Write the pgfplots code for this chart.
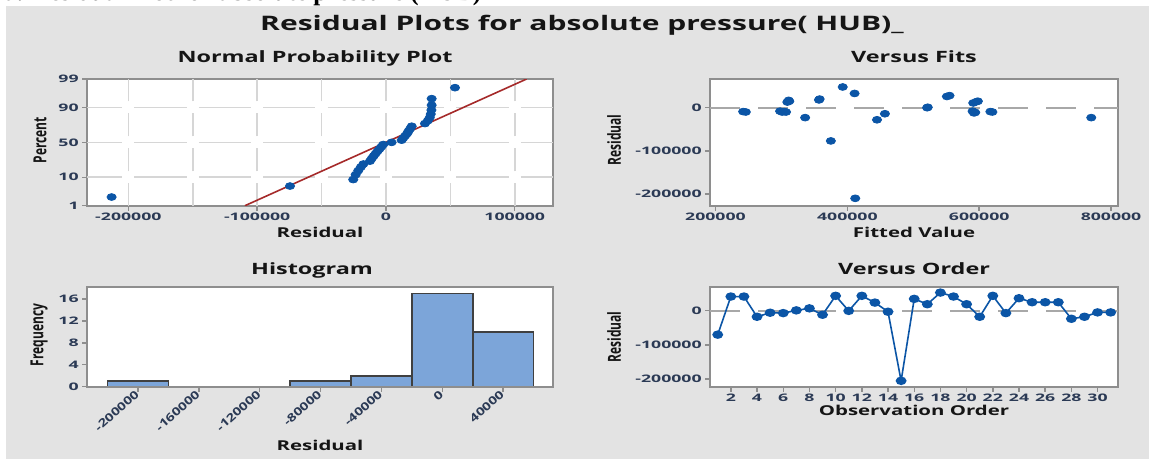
\documentclass[border=0pt]{standalone}
\usepackage{pgfplots}
\pgfplotsset{compat=1.18}
\usepackage{graphicx}
\usepackage{fontspec}
\setmainfont{Open Sans}
\newfontfamily\WideF[FakeStretch=1.5]{Open Sans}
\newfontfamily\TickF[FakeStretch=1.7]{Open Sans}
\newfontfamily\RotF[FakeStretch=1.3]{Open Sans}
\newfontfamily\LabF{Open Sans}
\newfontfamily\TopF{Liberation Serif}
\definecolor{panelc}{HTML}{E3E3E3}
\definecolor{framec}{HTML}{8E8E8E}
\definecolor{gridc}{HTML}{D6D6D6}
\definecolor{zeroc}{HTML}{A8A8A8}
\definecolor{mblue}{HTML}{0B55A6}
\definecolor{mred}{HTML}{A52A2A}
\definecolor{hbar}{HTML}{7CA5D9}
\definecolor{edgec}{HTML}{404040}
\definecolor{tickc}{HTML}{2B3A55}
\definecolor{textc}{HTML}{151515}

\pgfplotsset{
  mp/.style={
    scale only axis,
    axis background/.style={fill=white},
    axis line style={draw=framec, line width=0.9pt},
    tick style={draw=framec, line width=0.7pt},
    tick align=outside,
    major tick length=2.5pt,
    xtick pos=bottom, ytick pos=left,
    scaled ticks=false,
    /pgf/number format/assume math mode=true,
    tick label style={font=\TickF\bfseries\fontsize{5.2}{6}\selectfont, text=tickc},
    xticklabel style={inner sep=1pt},
    yticklabel style={inner sep=1.5pt},
  },
  mk/.style={mark=*, mark size=1.7pt, mark options={xscale=1.35, fill=mblue, draw=mblue, solid}},
}

% Normal probability plot: sorted residuals vs normal score
\pgfplotstableread{
x z
-213000 -2.008
-74500 -1.605
-25400 -1.366
-23500 -1.186
-21500 -1.038
-19500 -0.909
-17500 -0.795
-12400 -0.690
-11000 -0.592
-9500 -0.499
-8000 -0.410
-6500 -0.325
-5000 -0.242
-3500 -0.160
-2100 -0.080
4400 0
12200 0.080
13500 0.160
15000 0.242
16500 0.325
17500 0.410
18800 0.499
20000 0.592
30300 0.690
32500 0.795
34000 0.909
34800 1.038
35300 1.186
35500 1.366
35500 1.605
53600 2.008
}\npp

\pgfplotstableread{
fit res
242000 -9000
246000 -10000
298000 -8000
301000 -10000
304000 -9000
307000 -10000
309000 13000
311000 17000
312000 15000
336000 -23000
357000 18000
358000 20000
375000 -77000
393000 48000
411000 33000
412000 -210000
445000 -28000
457000 -14000
521000 0
522000 1000
551000 26000
555000 28000
590000 -8000
592000 -12000
591000 11000
596000 14000
598000 15000
594000 -11000
617000 -9000
620000 -10000
770000 -23000
}\fits

\pgfplotstableread{
bin freq
-200000 1
-160000 0
-120000 0
-80000 1
-40000 2
0 17
40000 10
}\hist

\pgfplotstableread{
obs res
1 -70000
2 41400
3 41400
4 -17700
5 -5900
6 -7000
7 1000
8 6900
9 -11800
10 43500
11 -500
12 43500
13 23700
14 -3000
15 -205000
16 34600
17 19000
18 53000
19 41400
20 19000
21 -17700
22 43500
23 -7000
24 36500
25 24800
26 24800
27 24800
28 -23600
29 -17700
30 -4900
31 -4900
}\order

\begin{document}
\begin{tikzpicture}
\path[use as bounding box] (0,0) rectangle (574.5pt,231pt);
\fill[white] (0,0) rectangle (574.5pt,231pt);
\fill[panelc] (3pt,1.5pt) rectangle (574.5pt,228pt);
\begin{scope}
\clip (0,228pt) rectangle (574.5pt,231pt);
\node[anchor=base west, inner sep=0pt, font=\TopF\bfseries\fontsize{12.5}{13}\selectfont] at (2pt,230.6pt) {a. Residual Plot for absolute pressure (HUB)};
\end{scope}

% ---------- Normal probability plot
\begin{axis}[mp, at={(43.5pt,128.15pt)}, anchor=south west, width=233pt, height=63.35pt,
  xmin=-232100, xmax=129700, ymin=-2.3263, ymax=2.3263,
  xtick={-200000,-100000,0,100000}, xticklabels={-200000,-100000,0,100000},
  ytick={-2.3263,-1.2816,0,1.2816,2.3263}, yticklabels={1,10,50,90,99}]
\foreach \yy in {-1.2816,0,1.2816}{
  \foreach \xa/\xb in {-232100/-204700,-195300/-154700,-145300/-104700,-95300/-54700,-45300/-4700,4700/45300,54700/95300,104700/129700}{
    \edef\tmp{\noexpand\draw[gridc,line width=0.8pt] (axis cs:\xa,\yy) -- (axis cs:\xb,\yy);}\tmp
  }
}
\foreach \xx in {-200000,-150000,-100000,-50000,0,50000,100000}{
  \foreach \ya/\yb in {-2.3263/-1.5016,-1.0616/-0.22,0.22/1.0616,1.5016/2.3263}{
    \edef\tmp{\noexpand\draw[gridc,line width=0.8pt] (axis cs:\xx,\ya) -- (axis cs:\xx,\yb);}\tmp
  }
}
\addplot[mred, line width=0.8pt] coordinates {(-109500,-2.3263) (109200,2.3263)};
\addplot[only marks, mk] table[x=x,y=z] {\npp};
\end{axis}

% ---------- Versus fits
\begin{axis}[mp, at={(355pt,128.15pt)}, anchor=south west, width=204pt, height=63.35pt,
  xmin=191700, xmax=810600, ymin=-227100, ymax=66500,
  xtick={200000,400000,600000,800000}, xticklabels={200000,400000,600000,800000},
  ytick={-200000,-100000,0}, yticklabels={-200000,-100000,0}]
\addplot[zeroc, line width=1pt, dash pattern=on 15pt off 9pt] coordinates {(191700,0) (810600,0)};
\addplot[only marks, mk] table[x=fit,y=res] {\fits};
\end{axis}

% ---------- Histogram
\begin{axis}[mp, at={(43.5pt,37.65pt)}, anchor=south west, width=233pt, height=50pt,
  axis on top,
  xmin=-233600, xmax=72800, ymin=0, ymax=18.25,
  xtick={-200000,-160000,-120000,-80000,-40000,0,40000},
  xticklabels={-200000,-160000,-120000,-80000,-40000,0,40000},
  xticklabel style={rotate=42, anchor=east, inner sep=0.5pt, font=\RotF\bfseries\fontsize{5.6}{6}\selectfont},
  ytick={0,4,8,12,16}, yticklabels={0,4,8,12,16}]
\addplot[ybar, bar width=40000, fill=hbar, draw=edgec, line width=0.8pt] table[x=bin,y=freq] {\hist};
\end{axis}

% ---------- Versus order
\begin{axis}[mp, at={(355pt,37.65pt)}, anchor=south west, width=204pt, height=50pt,
  xmin=0.41, xmax=31.56, ymin=-222200, ymax=70200,
  xtick={2,4,...,30},
  ytick={-200000,-100000,0}, yticklabels={-200000,-100000,0}]
\addplot[zeroc, line width=1pt, dash pattern=on 15pt off 9pt] coordinates {(0.41,0) (31.56,0)};
\addplot[mblue, line width=0.8pt, mk] table[x=obs,y=res] {\order};
\end{axis}

% ---------- Titles and labels
\node[anchor=base, inner sep=0pt, text=textc, font=\WideF\bfseries\fontsize{10}{12}\selectfont] at (291pt,216pt) {Residual Plots for absolute pressure( HUB)\_};
\node[anchor=base, inner sep=0pt, text=textc, font=\WideF\bfseries\fontsize{7.8}{9}\selectfont] at (157.5pt,200pt) {Normal Probability Plot};
\node[anchor=base, inner sep=0pt, text=textc, font=\WideF\bfseries\fontsize{7.8}{9}\selectfont] at (457pt,200pt) {Versus Fits};
\node[anchor=base, inner sep=0pt, text=textc, font=\WideF\bfseries\fontsize{7.8}{9}\selectfont] at (156pt,94pt) {Histogram};
\node[anchor=base, inner sep=0pt, text=textc, font=\WideF\bfseries\fontsize{7.8}{9}\selectfont] at (457pt,94pt) {Versus Order};
\node[anchor=base, inner sep=0pt, text=textc, font=\WideF\bfseries\fontsize{6.8}{8}\selectfont] at (160pt,112.5pt) {Residual};
\node[anchor=base, inner sep=0pt, text=textc, font=\WideF\bfseries\fontsize{6.8}{8}\selectfont] at (457pt,112.5pt) {Fitted Value};
\node[anchor=base, inner sep=0pt, text=textc, font=\WideF\bfseries\fontsize{6.8}{8}\selectfont] at (160pt,6pt) {Residual};
\node[anchor=base, inner sep=0pt, text=textc, font=\WideF\bfseries\fontsize{6.8}{8}\selectfont] at (457pt,23.5pt) {Observation Order};
\node[inner sep=0pt, text=textc, rotate=90] at (20pt,161pt) {\scalebox{1}[1.5]{\LabF\bfseries\fontsize{6}{7}\selectfont Percent}};
\node[inner sep=0pt, text=textc, rotate=90] at (307pt,161pt) {\scalebox{1}[1.5]{\LabF\bfseries\fontsize{6}{7}\selectfont Residual}};
\node[inner sep=0pt, text=textc, rotate=90] at (19.5pt,63.5pt) {\scalebox{1}[1.5]{\LabF\bfseries\fontsize{6}{7}\selectfont Frequency}};
\node[inner sep=0pt, text=textc, rotate=90] at (307pt,62.5pt) {\scalebox{1}[1.5]{\LabF\bfseries\fontsize{6}{7}\selectfont Residual}};
\end{tikzpicture}
\end{document}
